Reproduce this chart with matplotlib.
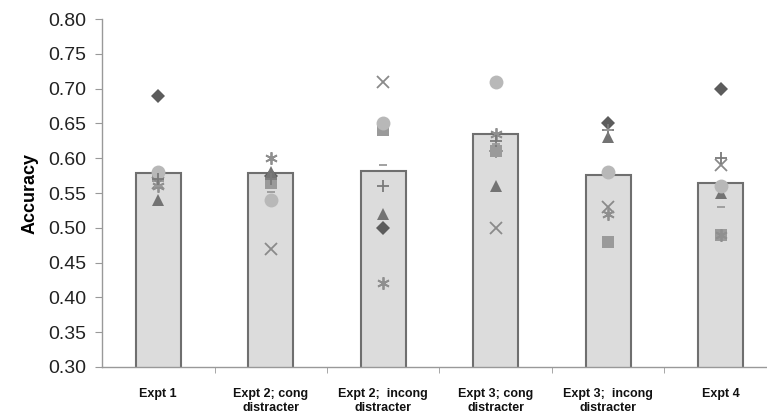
import matplotlib.pyplot as plt
import numpy as np

plt.rcParams['font.family'] = ['Liberation Sans', 'DejaVu Sans']

# conditions and mean accuracy per condition
conditions = ["Expt 1", "Expt 2; cong\ndistracter", "Expt 2;  incong\ndistracter",
              "Expt 3; cong\ndistracter", "Expt 3;  incong\ndistracter", "Expt 4"]
mean_acc = [0.579, 0.579, 0.582, 0.635, 0.576, 0.564]

# individual accuracies, one list per marker series
diamond = [0.69, 0.575, 0.50, 0.61, 0.65, 0.70]
square = [0.575, 0.565, 0.64, 0.61, 0.48, 0.49]
triangle = [0.54, 0.58, 0.52, 0.56, 0.63, 0.55]
cross = [0.565, 0.47, 0.71, 0.50, 0.53, 0.59]
star = [0.56, 0.60, 0.42, 0.635, 0.52, 0.49]
circle = [0.58, 0.54, 0.65, 0.71, 0.58, 0.56]
plus = [0.57, 0.57, 0.56, 0.625, 0.64, 0.60]
dash = [0.56, 0.552, 0.59, 0.62, 0.64, 0.53]


def main():
    fig = plt.figure(figsize=(7.67, 4.16), dpi=100)
    ax = fig.add_axes([0.133, 0.118, 0.880, 0.836])

    x = np.arange(len(conditions))
    ax.bar(x, mean_acc, width=0.4, color="#dcdcdc", edgecolor="#6f6f6f", linewidth=1.5, zorder=1)

    series = [
        (diamond, "D", "#5c5c5c", 7),
        (square, "s", "#9a9a9a", 8),
        (triangle, "^", "#737373", 8),
        (cross, "x", "#8a8a8a", 9),
        (star, (6, 2, 0), "#8f8f8f", 9),
        (circle, "o", "#b8b8b8", 10),
        (plus, "+", "#7a7a7a", 9),
        (dash, "_", "#9a9a9a", 6),
    ]
    for vals, mk, col, ms in series:
        if mk in ("x", "+", "_") or isinstance(mk, tuple):
            ax.plot(x, vals, linestyle="none", marker=mk, color=col, markersize=ms,
                    markeredgewidth=1.3, zorder=3)
        else:
            ax.plot(x, vals, linestyle="none", marker=mk, color=col, markersize=ms,
                    markeredgewidth=0, zorder=3)

    ax.set_xlim(-0.5, len(conditions) - 0.5)
    ax.set_ylim(0.30, 0.80)
    ax.set_yticks(np.arange(0.30, 0.801, 0.05))
    ax.set_yticklabels([f"{v:.2f}" for v in np.arange(0.30, 0.801, 0.05)])

    ax.set_xticks(x)
    ax.set_xticklabels(conditions, fontsize=9, fontweight="bold", linespacing=1.25)
    ax.set_xticks(np.arange(0.5, len(conditions) - 0.5), minor=True)
    ax.tick_params(axis="x", which="major", length=0, pad=15, colors="#111111")
    ax.tick_params(axis="x", which="minor", length=4, color="#999999", direction="out")
    ax.tick_params(axis="y", length=5, color="#999999", labelsize=14, labelcolor="#222222", pad=6)

    ax.set_ylabel("Accuracy", fontsize=13, fontweight="bold", labelpad=7)

    for side in ["top", "right"]:
        ax.spines[side].set_visible(False)
    for side in ["left", "bottom"]:
        ax.spines[side].set_color("#999999")
        ax.spines[side].set_linewidth(1)

    plt.savefig("out.png", dpi=100)


if __name__ == "__main__":
    main()
